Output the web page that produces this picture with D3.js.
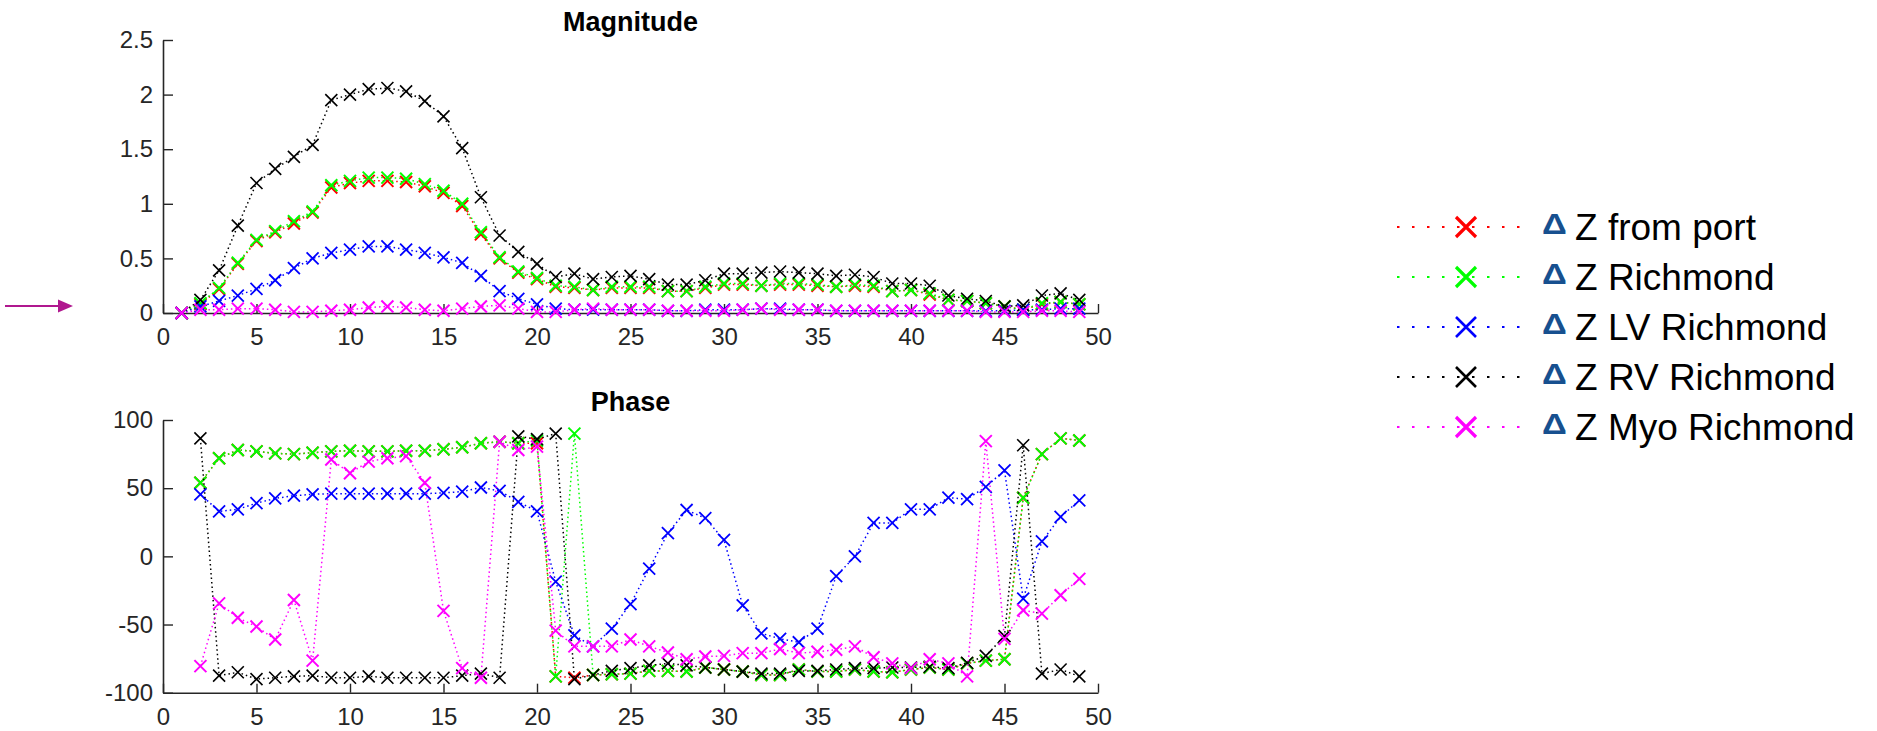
<!DOCTYPE html>
<html>
<head>
<meta charset="utf-8">
<script src="https://cdn.jsdelivr.net/npm/d3@7"></script>
<style>
  body { margin: 0; background: #fff; }
  text { font-family: "Liberation Sans", Arial, sans-serif; }
</style>
</head>
<body>
<div id="chart"></div>
<script>
// DATA (harmonic index 1..49)
const harmonics = d3.range(1, 50);

const seriesNames = ["from port", "Richmond", "LV Richmond", "RV Richmond", "Myo Richmond"];
const seriesColors = ["#ff0000", "#00ff00", "#0000ff", "#000000", "#ff00ff"];

// Magnitude
const magFromPort = [
  0, 0.08, 0.22, 0.45, 0.66, 0.74, 0.82, 0.92, 1.15, 1.19,
  1.21, 1.21, 1.20, 1.16, 1.10, 0.98, 0.72, 0.50, 0.37, 0.31,
  0.24, 0.23, 0.21, 0.23, 0.23, 0.23, 0.20, 0.20, 0.23, 0.26,
  0.26, 0.25, 0.26, 0.26, 0.25, 0.24, 0.25, 0.24, 0.20, 0.21,
  0.17, 0.12, 0.11, 0.09, 0.06, 0.03, 0.08, 0.10, 0.08];
const magRichmond = [
  0, 0.09, 0.23, 0.46, 0.67, 0.75, 0.84, 0.93, 1.17, 1.21,
  1.24, 1.24, 1.23, 1.18, 1.12, 1.00, 0.74, 0.51, 0.38, 0.32,
  0.25, 0.24, 0.21, 0.24, 0.24, 0.24, 0.20, 0.20, 0.24, 0.27,
  0.27, 0.25, 0.27, 0.27, 0.26, 0.24, 0.26, 0.25, 0.20, 0.21,
  0.18, 0.12, 0.11, 0.09, 0.06, 0.03, 0.09, 0.10, 0.08];
const magLV = [
  0, 0.06, 0.11, 0.16, 0.22, 0.30, 0.41, 0.50, 0.55, 0.58,
  0.61, 0.61, 0.58, 0.55, 0.51, 0.46, 0.34, 0.20, 0.13, 0.08,
  0.04, 0.03, 0.03, 0.03, 0.03, 0.03, 0.02, 0.02, 0.03, 0.03,
  0.03, 0.04, 0.04, 0.03, 0.03, 0.02, 0.02, 0.02, 0.02, 0.02,
  0.02, 0.02, 0.02, 0.02, 0.02, 0.03, 0.03, 0.04, 0.04];
const magRV = [
  0, 0.12, 0.39, 0.80, 1.19, 1.32, 1.43, 1.54, 1.95, 2.00,
  2.05, 2.06, 2.03, 1.94, 1.80, 1.51, 1.06, 0.71, 0.56, 0.45,
  0.33, 0.36, 0.31, 0.33, 0.34, 0.31, 0.26, 0.26, 0.30, 0.36,
  0.36, 0.37, 0.38, 0.37, 0.36, 0.34, 0.35, 0.33, 0.27, 0.27,
  0.25, 0.16, 0.13, 0.11, 0.06, 0.07, 0.16, 0.18, 0.12];
const magMyo = [
  0, 0.03, 0.03, 0.04, 0.04, 0.03, 0.01, 0.01, 0.02, 0.03,
  0.05, 0.06, 0.05, 0.03, 0.02, 0.04, 0.06, 0.07, 0.04, 0.01,
  0.01, 0.03, 0.04, 0.03, 0.03, 0.03, 0.02, 0.02, 0.02, 0.02,
  0.03, 0.04, 0.03, 0.03, 0.03, 0.02, 0.02, 0.02, 0.02, 0.02,
  0.02, 0.02, 0.02, 0.01, 0.01, 0.01, 0.02, 0.02, 0.01];

// Phase (no value at harmonic 1)
const phaseFromPort = [
  null, 54, 72, 78, 77, 75.5, 75, 76, 77, 77.5,
  77, 77, 77.5, 77.5, 78.5, 80, 83, 84, 83, 83,
  -88, -89, -87, -86.5, -86, -84, -84, -84.5, -81.5, -83,
  -84.5, -87, -87, -83, -84.5, -84.5, -83, -84.5, -85, -83,
  -81.5, -83, -78.5, -76.5, -75.5, 43, 75, 86.5, 85];
const phaseRichmond = [
  null, 54, 72, 78, 77, 75.5, 75, 76, 77, 77.5,
  77, 77, 77.5, 77.5, 78.5, 80, 83, 84, 83, 85,
  -88, 90, -87, -86.5, -86, -84, -84, -84.5, -81.5, -83,
  -84.5, -87, -87, -83, -84.5, -84.5, -83, -84.5, -85, -83,
  -81.5, -83, -78.5, -76.5, -75.5, 43, 75, 86.5, 85];
const phaseLV = [
  null, 45.5, 33, 34.5, 39, 42.5, 44.5, 45.5, 46, 46,
  46, 46, 46, 46, 46.5, 47.5, 50.5, 48, 40, 33,
  -18.5, -58, -66, -53, -35, -9, 17, 34, 28, 12,
  -36, -56.5, -60.5, -63, -53, -14.5, 0, 24.5, 24.5, 34.5,
  34.5, 43, 42, 51, 63, -31, 11, 29, 41];
const phaseRV = [
  null, 86.5, -87.5, -85, -90, -89, -88, -87.5, -89, -89,
  -88, -89, -89, -89, -89, -87.5, -86, -89, 88, 86,
  90, -90, -87, -84, -82, -80, -78.5, -80, -81.5, -83,
  -84.5, -86, -86, -84, -84, -83, -82, -82, -81.5, -81.5,
  -81, -82, -78, -73, -58.5, 81.5, -86, -83, -88];
const phaseMyo = [
  null, -80.5, -34.5, -45, -51.5, -61, -32, -76.5, 71, 61,
  69.5, 72, 73.5, 54, -40, -82, -89, 84, 78, 80.5,
  -54.5, -66, -66, -66, -61, -66, -70.5, -75.5, -73.5, -73,
  -71, -71, -68, -71, -70, -68.5, -66, -74, -78.5, -82,
  -75.5, -78.5, -88, 84.5, -60.5, -39.5, -42, -28.5, -16.5];

const magSeries = [magFromPort, magRichmond, magLV, magRV, magMyo];
const phaseSeries = [phaseFromPort, phaseRichmond, phaseLV, phaseRV, phaseMyo];

const xTicks = [0, 5, 10, 15, 20, 25, 30, 35, 40, 45, 50];
const magTicks = [0, 0.5, 1, 1.5, 2, 2.5];
const phaseTicks = [-100, -50, 0, 50, 100];

// SET GLOBAL VARIABLES
const W = 1877, H = 731;
const plotLeft = 163, plotRight = 1098;

const svg = d3.select("#chart")
    .append("svg")
    .attr("width", W)
    .attr("height", H);

const x = d3.scaleLinear().domain([0, 50]).range([plotLeft, plotRight]);
const yMag = d3.scaleLinear().domain([0, 2.5]).range([313, 40]);
const yPhase = d3.scaleLinear().domain([-100, 100]).range([692.7, 420]);

const markerWidth = [2, 2, 1.8, 1.6, 2];

function drawPanel(yScale, yTicks, data, title, titleY) {
    const g = svg.append("g");

    // Axes (MATLAB style, inward ticks, no box)
    const xAxis = g.append("g")
        .attr("transform", `translate(0,${yScale.range()[0]})`)
        .call(d3.axisBottom(x).tickValues(xTicks).tickSizeInner(-9).tickSizeOuter(0)
            .tickPadding(15).tickFormat(d => String(d)));
    const yAxis = g.append("g")
        .attr("transform", `translate(${plotLeft},0)`)
        .call(d3.axisLeft(yScale).tickValues(yTicks).tickSizeInner(-10).tickSizeOuter(0)
            .tickPadding(10).tickFormat(d => String(d)));

    [xAxis, yAxis].forEach(a => {
        a.select(".domain").attr("stroke", "#262626").attr("stroke-width", 1.6);
        a.selectAll(".tick line").attr("stroke", "#262626").attr("stroke-width", 1.4);
        a.selectAll(".tick text")
            .attr("fill", "#262626")
            .style("font-size", "24px")
            .style("font-family", "'Liberation Sans', Arial, sans-serif");
    });

    // Title
    g.append("text")
        .attr("x", (plotLeft + plotRight) / 2)
        .attr("y", titleY)
        .attr("text-anchor", "middle")
        .style("font-size", "27px")
        .style("font-weight", "bold")
        .text(title);

    // Series: dotted lines with x markers
    data.forEach((vals, i) => {
        const pts = harmonics.map((h, j) => ({ h: h, v: vals[j] }));
        g.append("path")
            .datum(pts)
            .attr("fill", "none")
            .attr("stroke", seriesColors[i])
            .attr("stroke-width", 1.5)
            .attr("stroke-dasharray", "1.5,3")
            .attr("d", d3.line()
                .defined(d => d.v !== null)
                .x(d => x(d.h))
                .y(d => yScale(d.v)));

        const s = 6;
        g.append("g")
            .selectAll("path")
            .data(pts.filter(d => d.v !== null))
            .join("path")
            .attr("fill", "none")
            .attr("stroke", seriesColors[i])
            .attr("stroke-width", markerWidth[i])
            .attr("d", d => {
                const cx = x(d.h), cy = yScale(d.v);
                return `M${cx - s},${cy - s}L${cx + s},${cy + s}M${cx - s},${cy + s}L${cx + s},${cy - s}`;
            });
    });
}

drawPanel(yMag, magTicks, magSeries, "Magnitude", 31);
drawPanel(yPhase, phaseTicks, phaseSeries, "Phase", 411);

// Legend
const legend = svg.append("g");
const legendRows = d3.scaleBand().domain(d3.range(seriesNames.length)).range([202, 452]);
seriesNames.forEach((name, i) => {
    const cy = legendRows(i) + legendRows.bandwidth() / 2;
    legend.append("line")
        .attr("x1", 1397).attr("x2", 1526)
        .attr("y1", cy).attr("y2", cy)
        .attr("stroke", seriesColors[i])
        .attr("stroke-width", 2.2)
        .attr("stroke-dasharray", "2.5,12.5");
    const s = 10, cx = 1466;
    legend.append("path")
        .attr("fill", "none")
        .attr("stroke", seriesColors[i])
        .attr("stroke-width", i === 2 || i === 3 ? 2.6 : 3.2)
        .attr("d", `M${cx - s},${cy - s}L${cx + s},${cy + s}M${cx - s},${cy + s}L${cx + s},${cy - s}`);
    legend.append("text")
        .attr("transform", `translate(1542,${cy + 7}) scale(1.15,1)`)
        .attr("fill", "#17508f")
        .style("font-size", "30px")
        .style("font-weight", "bold")
        .text("\u0394");
    legend.append("text")
        .attr("x", 1575)
        .attr("y", cy + 13)
        .attr("fill", "#000")
        .style("font-size", "37px")
        .text("Z " + name);
});

// Arrow pointing at the magnitude baseline
const arrowY = 306;
svg.append("line")
    .attr("x1", 5).attr("x2", 62)
    .attr("y1", arrowY).attr("y2", arrowY)
    .attr("stroke", "#b0188f")
    .attr("stroke-width", 2);
svg.append("path")
    .attr("fill", "#b0188f")
    .attr("d", `M58,${arrowY - 6.5}L73,${arrowY}L58,${arrowY + 6.5}Z`);
</script>
</body>
</html>
